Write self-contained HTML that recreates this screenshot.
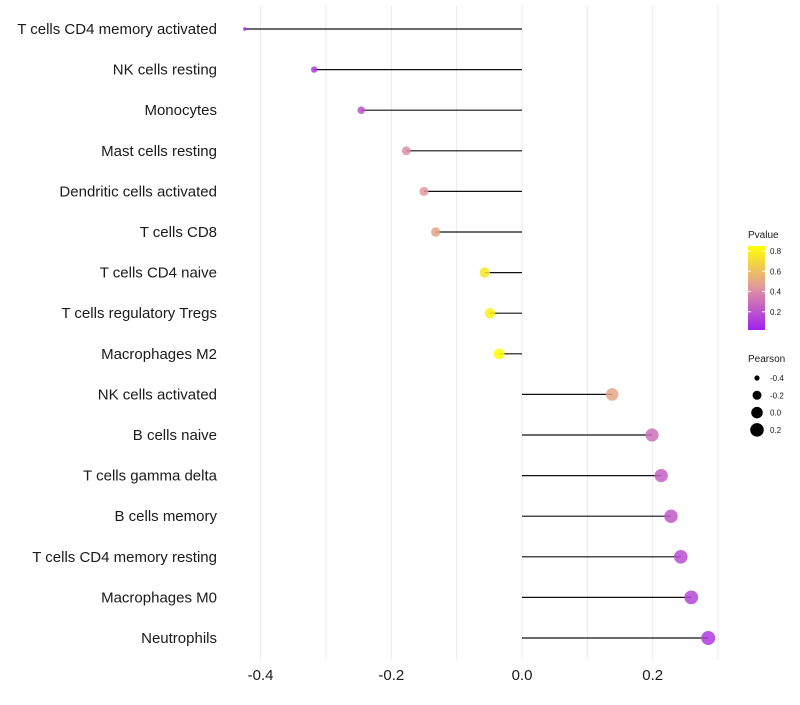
<!DOCTYPE html>
<html><head><meta charset="utf-8"><style>
body{margin:0;background:#fff;}
svg text{font-family:"Liberation Sans",sans-serif;}
</style></head><body>
<svg id="c" width="800" height="700"></svg>
<script>
const categories=["T cells CD4 memory activated","NK cells resting","Monocytes","Mast cells resting","Dendritic cells activated","T cells CD8","T cells CD4 naive","T cells regulatory  Tregs ","Macrophages M2","NK cells activated","B cells naive","T cells gamma delta","B cells memory","T cells CD4 memory resting","Macrophages M0","Neutrophils"];
const pearson=[-0.424,-0.318,-0.246,-0.177,-0.15,-0.132,-0.057,-0.049,-0.035,0.138,0.199,0.213,0.228,0.243,0.259,0.285];
const pvalue=[0.02,0.1,0.2,0.4,0.45,0.5,0.75,0.8,0.85,0.5,0.3,0.25,0.22,0.18,0.15,0.12];
const xTicks=[-0.4,-0.2,0.0,0.2];
const xTickLabels=["-0.4","-0.2","0.0","0.2"];
const pTicks=[0.2,0.4,0.6,0.8];
const sizeTicks=[-0.4,-0.2,0.0,0.2];

const NS="http://www.w3.org/2000/svg";
const svg=document.getElementById('c');
function mk(t,a,p){const e=document.createElementNS(NS,t);for(const k in a)e.setAttribute(k,a[k]);(p||svg).appendChild(e);return e;}
const x=v=>522+v*653.5;
const y=i=>29+i*40.6;
const pMin=0.02,pMax=0.85;
function lerp(a,b,t){return a.map((v,i)=>Math.round(v+(b[i]-v)*t));}
function col(p){let t=(p-pMin)/(pMax-pMin);t=Math.max(0,Math.min(1,t));
 const A=[160,32,240],B=[224,150,160],C=[255,255,0];
 const c=t<0.5?lerp(A,B,t/0.5):lerp(B,C,(t-0.5)/0.5);return `rgb(${c})`;}
const sMin=Math.min(...pearson),sMax=Math.max(...pearson);
function rad(v){const t=(v-sMin)/(sMax-sMin);return Math.sqrt(1.8*1.8+t*(7*7-1.8*1.8));}

const g=mk('g',{});
for(let v=-0.4;v<=0.31;v+=0.1){const l=mk('line',{x1:x(v),x2:x(v),y1:5,y2:660,stroke:'#ebebeb','stroke-width':1},g);
 }
xTicks.forEach((v,i)=>{const t=mk('text',{x:x(v),y:680,'font-size':15,'text-anchor':'middle',fill:'#1a1a1a'});t.textContent=xTickLabels[i];
 });
categories.forEach((c,i)=>{
 const t=mk('text',{x:217,y:y(i)+5,'font-size':15,'text-anchor':'end',fill:'#1a1a1a'});t.textContent=c;
 
 const l=mk('line',{x1:x(0),x2:x(pearson[i]),y1:y(i),y2:y(i),stroke:'#111','stroke-width':1.2});
 
 const d=mk('circle',{cx:x(pearson[i]),cy:y(i),r:rad(pearson[i]),fill:col(pvalue[i]),opacity:0.85});
 
});
const lg=mk('g',{});
const t1=mk('text',{x:748,y:238,'font-size':10,fill:'#1a1a1a'},lg);t1.textContent='Pvalue';
const defs=mk('defs',{});const gr=mk('linearGradient',{id:'pg',x1:0,y1:1,x2:0,y2:0},defs);
for(let k=0;k<=10;k++){mk('stop',{offset:k/10,'stop-color':col(pMin+(pMax-pMin)*k/10)},gr);}
const cbTop=246,cbBot=330;const py=p=>cbBot-(p-pMin)/(pMax-pMin)*(cbBot-cbTop);
const cb=mk('rect',{x:748,y:cbTop,width:17,height:cbBot-cbTop,fill:'url(#pg)'},lg);

pTicks.forEach(p=>{mk('line',{x1:748,x2:751,y1:py(p),y2:py(p),stroke:'#fff'},lg);mk('line',{x1:762,x2:765,y1:py(p),y2:py(p),stroke:'#fff'},lg);
 const t=mk('text',{x:770,y:py(p)+3,'font-size':8,fill:'#1a1a1a'},lg);t.textContent=p.toFixed(1);});
const sg=mk('g',{});
const t2=mk('text',{x:748,y:362,'font-size':10,fill:'#1a1a1a'},sg);t2.textContent='Pearson';
sizeTicks.forEach((v,i)=>{const cy=378+i*17.3;mk('circle',{cx:757,cy:cy,r:rad(v)*0.95+0.5,fill:'#000'},sg);
 const t=mk('text',{x:770,y:cy+3,'font-size':8,fill:'#1a1a1a'},sg);t.textContent=v.toFixed(1);});
</script>
</body></html>
